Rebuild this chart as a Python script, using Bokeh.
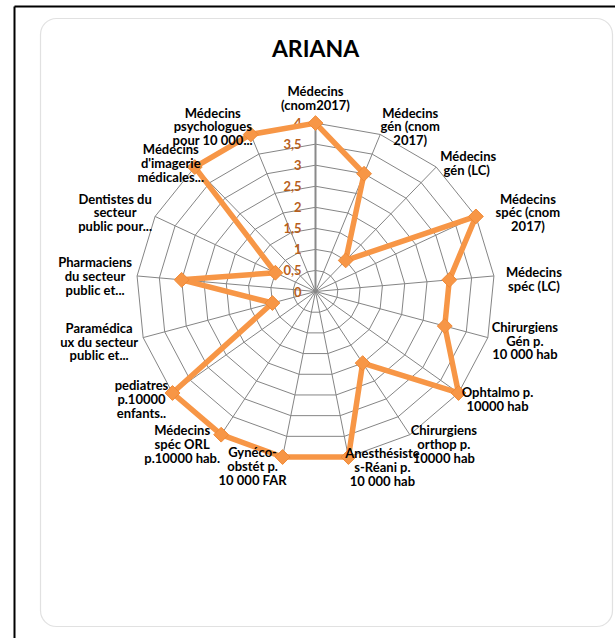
import numpy as np
from bokeh.plotting import figure
from bokeh.models import Range1d, BoxAnnotation, Label
from bokeh.core.properties import value
from bokeh.embed import file_html
from bokeh.resources import INLINE

# ---------------- data ----------------
title = "ARIANA"
categories = [
    "Médecins\n(cnom2017)",
    "Médecins\ngén (cnom\n2017)",
    "Médecins\ngén  (LC)",
    "Médecins\nspéc (cnom\n2017)",
    "Médecins\nspéc (LC)",
    "Chirurgiens\nGén p.\n10 000 hab",
    "Ophtalmo p.\n10000 hab",
    "Chirurgiens\northop p.\n10000 hab",
    "Anesthésiste\ns-Réani p.\n10 000 hab",
    "Gynéco-\nobstét p.\n10 000 FAR",
    "Médecins\nspéc ORL\np.10000 hab.",
    "pediatres\np.10000\nenfants..",
    "Paramédica\nux du secteur\npublic et...",
    "Pharmaciens\ndu secteur\npublic et...",
    "Dentistes du\nsecteur\npublic pour...",
    "Médecins\nd'imagerie\nmédicales...",
    "Médecins\npsychologues\npour 10 000...",
]
values = [4, 3, 1, 4, 3, 3, 4, 2, 4, 4, 4, 4, 1, 3, 1, 4, 4]
tick_values = [0, 0.5, 1, 1.5, 2, 2.5, 3, 3.5, 4]
tick_labels = ["0", "0,5", "1", "1,5", "2", "2,5", "3", "3,5", "4"]
r_max = 4

# ---------------- layout (pixels) ----------------
W, H = 615, 638
CX, CY = 315, 291          # radar centre on canvas
SX, SY = 44.8, 42.1        # pixels per unit (chart is slightly stretched horizontally)
# label centre offset from outer ring point (screen px, y down)
label_offsets = [(0, -25), (30, -8), (32, -4), (52, -4), (40, 3), (37, 3), (39, 6),
                 (34, 9), (34, 10), (-30, 9), (-39, 9), (-31, 6), (-44, 4), (-42, 0),
                 (-40, -4), (-24, -4), (-38, -8)]

def dx(px):
    return (px - CX) / SX

def dy(py):
    return (CY - py) / SY

FONT = "Lato"
GRID = "#858585"
SERIES = "#F79646"
TICK_COLOR = "#B85F1C"

p = figure(width=W, height=H, x_range=Range1d(-CX / SX, (W - CX) / SX),
           y_range=Range1d(-(H - CY) / SY, CY / SY),
           output_backend="svg", toolbar_location=None, min_border=0,
           x_axis_type=None, y_axis_type=None, outline_line_color=None,
           background_fill_color="white", border_fill_color="white")
p.grid.visible = False

# frame decorations
p.segment(x0=[dx(14), dx(14)], y0=[dy(6), dy(6)], x1=[dx(14), dx(W + 5)],
          y1=[dy(H + 5), dy(6)], line_color="black", line_width=2)
p.add_layout(BoxAnnotation(left=dx(40), right=dx(612), top=dy(18), bottom=dy(626),
                           fill_alpha=0, line_color="#9C9C9C", line_width=1.2,
                           border_radius=16))

n = len(categories)
theta = np.arange(n) * 2 * np.pi / n
s, c = np.sin(theta), np.cos(theta)

# rings
ring_xs, ring_ys = [], []
for r in tick_values[1:]:
    ring_xs.append(list(np.append(r * s, r * s[0])))
    ring_ys.append(list(np.append(r * c, r * c[0])))
p.multi_line(ring_xs, ring_ys, line_color=GRID, line_width=1)

# spokes
p.segment(x0=np.zeros(n), y0=np.zeros(n), x1=r_max * s, y1=r_max * c,
          line_color=GRID, line_width=1)
p.segment(x0=[0], y0=[0], x1=[0], y1=[r_max], line_color="#8A8A8A", line_width=2)

# tick labels
p.text(x=[dx(CX - 14)] * len(tick_values), y=tick_values, text=tick_labels,
       text_align="right", text_baseline="middle", text_font=value(FONT),
       text_font_style="bold", text_font_size="13px", text_color=TICK_COLOR)

# series
vals = np.array(values, dtype=float)
xs = vals * s
ys = vals * c
p.line(np.append(xs, xs[0]), np.append(ys, ys[0]), line_color=SERIES, line_width=5.5,
       line_join="round")
p.scatter(xs, ys, marker="square", angle=np.pi / 4, size=10.5,
          fill_color=SERIES, line_color="#F08A36", line_width=1)

# category labels
lx = [r_max * s[i] + label_offsets[i][0] / SX for i in range(n)]
ly = [r_max * c[i] - label_offsets[i][1] / SY for i in range(n)]
p.text(x=lx, y=ly, text=categories, text_align="center", text_baseline="middle",
       text_font=value(FONT), text_font_style="bold", text_font_size="13px",
       text_color="black", text_line_height=0.87)

# title
p.add_layout(Label(x=dx(315), y=dy(47), text=title, text_align="center",
                   text_baseline="middle", text_font=FONT, text_font_style="bold",
                   text_font_size="23px", text_color="black"))

open("out.html", "w").write(file_html(p, INLINE))
